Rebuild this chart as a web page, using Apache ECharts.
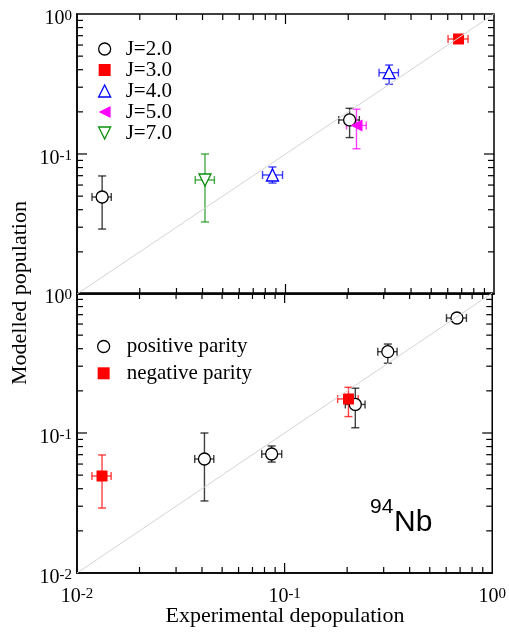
<!DOCTYPE html>
<html><head><meta charset="utf-8">
<script src="https://cdn.jsdelivr.net/npm/echarts@6/dist/echarts.min.js"></script>
<style>html,body{margin:0;padding:0;background:#fff}#c{width:509px;height:633px}</style>
</head><body><div id="c"></div>
<script>
// ---- data ----
const stateJ   = [2, 7, 4, 2, 5, 4, 3];
const parity   = ['-', '+', '+', '-', '+', '+', '+'];
const expVal   = [0.0132, 0.0411, 0.0866, 0.203, 0.219, 0.314, 0.676];
const expLo    = [0.0118, 0.0369, 0.0776, 0.180, 0.196, 0.281, 0.602];
const expHi    = [0.0146, 0.0456, 0.0968, 0.226, 0.244, 0.348, 0.751];
const modVal   = [0.0493, 0.0652, 0.0708, 0.175, 0.160, 0.381, 0.663];
const modLo    = [0.0291, 0.0327, 0.0620, 0.131, 0.109, 0.315, 0.630];
const modHi    = [0.0697, 0.1000, 0.0808, 0.212, 0.209, 0.432, 0.700];
const jGroups  = [2, 3, 4, 5, 7];
const jLabels  = ['J=2.0', 'J=3.0', 'J=4.0', 'J=5.0', 'J=7.0'];
const parityGroups = ['+', '-'];
const parityLabels = ['positive parity', 'negative parity'];
const minorTicks = [0.02,0.03,0.04,0.05,0.06,0.07,0.08,0.09,0.2,0.3,0.4,0.5,0.6,0.7,0.8,0.9];
const majorTicks = [0.1];
const diagonal = [0.01, 1];
const axisMin = 0.01, axisMax = 1;

// ---- styles ----
const TRI_UP = 'path://M5,0 L10,10 L0,10 Z';
const TRI_LEFT = 'path://M0,5 L10,0 L10,10 Z';
const TRI_DOWN = 'path://M0,0 L10,0 L5,10 Z';
const jStyle = {
  2: {color:'#000000', symbol:'circle', fill:'#ffffff'},
  3: {color:'#ff0000', symbol:'rect', fill:'#ff0000'},
  4: {color:'#0000ff', symbol:TRI_UP, fill:'#ffffff'},
  5: {color:'#ff00ff', symbol:TRI_LEFT, fill:'#ff00ff'},
  7: {color:'#0a8f0a', symbol:TRI_DOWN, fill:'#ffffff'}
};
const pStyle = {
  '+': {color:'#000000', symbol:'circle', fill:'#ffffff'},
  '-': {color:'#ff0000', symbol:'rect', fill:'#ff0000'}
};
const SERIF = 'Liberation Serif';

function errSeries(gridIdx, idxs, color) {
  return {
    type:'custom', xAxisIndex:gridIdx, yAxisIndex:gridIdx, silent:true,
    encode:{x:0, y:1},
    data: idxs.map(i => [expVal[i], modVal[i], expLo[i], expHi[i], modLo[i], modHi[i]]),
    renderItem: function(params, api) {
      const x = api.value(0), y = api.value(1);
      const pL = api.coord([api.value(2), y]), pR = api.coord([api.value(3), y]);
      const pB = api.coord([x, api.value(4)]), pT = api.coord([x, api.value(5)]);
      const c = 4;
      const st = {stroke: color, lineWidth: 1.4, opacity: 0.75};
      const L = (x1,y1,x2,y2) => ({type:'line', shape:{x1,y1,x2,y2}, style:st});
      return {type:'group', children:[
        L(pL[0],pL[1],pR[0],pR[1]), L(pB[0],pB[1],pT[0],pT[1]),
        L(pL[0],pL[1]-c,pL[0],pL[1]+c), L(pR[0],pR[1]-c,pR[0],pR[1]+c),
        L(pB[0]-c,pB[1],pB[0]+c,pB[1]), L(pT[0]-c,pT[1],pT[0]+c,pT[1])
      ]};
    }
  };
}
function markerStyle(s) {
  return {color:s.fill, borderColor:s.color, borderWidth: s.fill==='#ffffff'?1.3:0, opacity:1};
}
function scatterSeries(gridIdx, name, idxs, s) {
  return {
    type:'scatter', name, xAxisIndex:gridIdx, yAxisIndex:gridIdx,
    symbol:s.symbol, symbolSize: s.symbol==='rect'?11:12,
    itemStyle:markerStyle(s),
    data: idxs.map(i => [expVal[i], modVal[i]])
  };
}
function tickSeries(gridIdx) {
  const data = minorTicks.map(v => [v, v, 0]).concat(majorTicks.map(v => [v, v, 1]));
  return {
    type:'custom', xAxisIndex:gridIdx, yAxisIndex:gridIdx, silent:true, encode:{x:0,y:1},
    data,
    renderItem: function(params, api) {
      const v = api.value(0), len = api.value(2) ? 10 : 6;
      const b = api.coord([v, axisMin]), t = api.coord([v, axisMax]);
      const l = api.coord([axisMin, v]), r = api.coord([axisMax, v]);
      const st = {stroke:'#000', lineWidth:1.2};
      return {type:'group', children:[
        {type:'line', shape:{x1:b[0],y1:b[1],x2:b[0],y2:b[1]-len}, style:st},
        {type:'line', shape:{x1:t[0],y1:t[1],x2:t[0],y2:t[1]+len}, style:st},
        {type:'line', shape:{x1:l[0],y1:l[1],x2:l[0]+len,y2:l[1]}, style:st},
        {type:'line', shape:{x1:r[0],y1:r[1],x2:r[0]-len,y2:r[1]}, style:st}
      ]};
    }
  };
}
function diagSeries(gridIdx) {
  return {type:'line', xAxisIndex:gridIdx, yAxisIndex:gridIdx, silent:true, symbol:'none',
    lineStyle:{color:'#d4d4d4', width:1}, data: diagonal.map(v => [v, v])};
}

const labelFmt = v => '{a|10}{b|' + Math.round(Math.log10(v)) + '}';
const labelRich = {
  a:{fontFamily:SERIF, fontSize:20, color:'#000', lineHeight:20, verticalAlign:'bottom', padding:[6,0,0,0]},
  b:{fontFamily:SERIF, fontSize:15, color:'#000', lineHeight:15, verticalAlign:'top'}
};
function axisBase(gridIdx, label) {
  return {
    type:'log', logBase:10, gridIndex:gridIdx, min:axisMin, max:axisMax,
    axisLine:{show:true, lineStyle:{color:'#000', width:1.5}},
    axisTick:{show:false}, splitLine:{show:false}, minorTick:{show:false},
    axisLabel: label
  };
}

const series = [];
[0,1].forEach(g => { series.push(diagSeries(g)); series.push(tickSeries(g)); });
jGroups.forEach((j, k) => {
  const idxs = stateJ.map((v,i)=>v===j?i:-1).filter(i=>i>=0);
  series.push(errSeries(0, idxs, jStyle[j].color));
  series.push(scatterSeries(0, jLabels[k], idxs, jStyle[j]));
});
parityGroups.forEach((p, k) => {
  const idxs = parity.map((v,i)=>v===p?i:-1).filter(i=>i>=0);
  series.push(errSeries(1, idxs, pStyle[p].color));
  series.push(scatterSeries(1, parityLabels[k], idxs, pStyle[p]));
});

const option = {
  animation:false,
  backgroundColor:'#fff',
  grid:[
    {left:77, top:14, width:417, height:280, show:true, borderColor:'#000', borderWidth:1.5, backgroundColor:'transparent'},
    {left:77, top:293, width:417, height:280, show:true, borderColor:'#000', borderWidth:1.5, backgroundColor:'transparent'}
  ],
  xAxis:[
    axisBase(0, {show:false}),
    axisBase(1, {show:true, formatter:labelFmt, rich:labelRich, margin:14, showMinLabel:true, showMaxLabel:true})
  ],
  yAxis:[
    axisBase(0, {show:true, formatter:labelFmt, rich:labelRich, margin:5, padding:[10,0,0,0], showMinLabel:false, showMaxLabel:true}),
    axisBase(1, {show:true, formatter:labelFmt, rich:labelRich, margin:5, padding:[10,0,0,0], showMinLabel:true, showMaxLabel:true})
  ],
  legend:[
    {data:jGroups.map((j,k)=>({name:jLabels[k], itemStyle:markerStyle(jStyle[j])})),
     orient:'vertical', left:98, top:38.5, padding:0, itemWidth:12, itemHeight:12, itemGap:0,
     selectedMode:false, textStyle:{fontFamily:SERIF, fontSize:21, color:'#000', padding:[0,0,0,10]}},
    {data:parityGroups.map((p,k)=>({name:parityLabels[k], itemStyle:markerStyle(pStyle[p])})),
     orient:'vertical', left:97, top:336, padding:0, itemWidth:12, itemHeight:12, itemGap:5.8,
     selectedMode:false, textStyle:{fontFamily:SERIF, fontSize:21, color:'#000', padding:[0,0,0,12]}}
  ],
  graphic:[
    {type:'text', x:20, y:293, rotation:Math.PI/2,
     style:{text:'Modelled population', font:'22px "Liberation Serif"', fill:'#000', textAlign:'center', textVerticalAlign:'middle'}},
    {type:'text', x:285, y:616,
     style:{text:'Experimental depopulation', font:'22px "Liberation Serif"', fill:'#000', textAlign:'center', textVerticalAlign:'middle'}},
    {type:'text', x:370, y:507,
     style:{text:'94', font:'21px "Liberation Sans"', fill:'#000', textAlign:'left', textVerticalAlign:'middle'}},
    {type:'text', x:394, y:523,
     style:{text:'Nb', font:'30px "Liberation Sans"', fill:'#000', textAlign:'left', textVerticalAlign:'middle'}}
  ],
  series
};
const chart = echarts.init(document.getElementById('c'), null, {renderer:'canvas'});
chart.setOption(option);
</script>
</body></html>
